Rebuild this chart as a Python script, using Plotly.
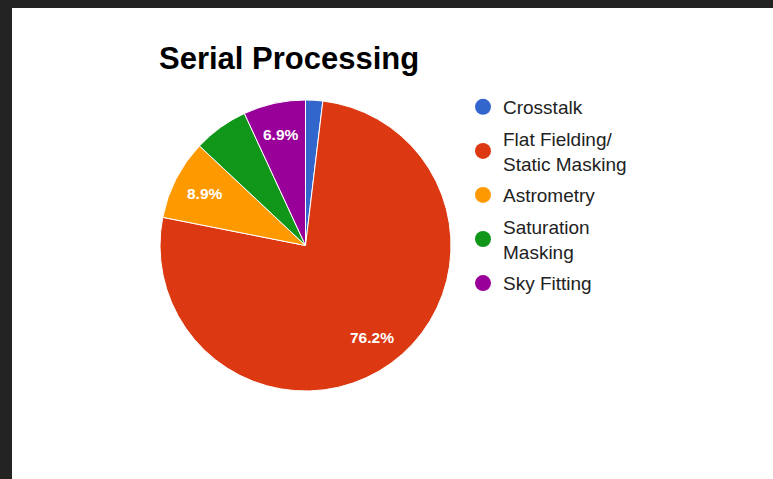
import math
import plotly.graph_objects as go

# Data
categories = ["Crosstalk", "Flat Fielding/<br>Static Masking", "Astrometry",
              "Saturation<br>Masking", "Sky Fitting"]
values = [1.9, 76.2, 8.9, 6.1, 6.9]
colors = ["#3366cc", "#dc3912", "#ff9900", "#109618", "#990099"]
show_label = [False, True, True, False, True]
title_text = "Serial Processing"

W, H = 773, 479
FONT = "Liberation Sans, Arial, sans-serif"

# pie geometry (pixels)
PIE_L, PIE_R, PIE_T, PIE_B = 160, 451, 100, 391
cx_px = (PIE_L + PIE_R) / 2
cy_px = (PIE_T + PIE_B) / 2
rad_px = min(PIE_R - PIE_L, PIE_B - PIE_T) / 2
LABEL_FRAC = 0.78

fig = go.Figure()

fig.add_trace(go.Pie(
    labels=categories,
    values=values,
    sort=False,
    direction="clockwise",
    rotation=0,
    marker=dict(colors=colors, line=dict(color="white", width=1)),
    textinfo="none",
    showlegend=False,
    hoverinfo="label+percent",
    domain=dict(x=[PIE_L / W, PIE_R / W], y=[1 - PIE_B / H, 1 - PIE_T / H]),
))

# slice percentage labels, placed Google-Charts style along each slice bisector
total = sum(values)
annotations = []
cum = 0.0
for v, s in zip(values, show_label):
    mid = (cum + v / 2) / total * 2 * math.pi
    cum += v
    if not s:
        continue
    px = cx_px + LABEL_FRAC * rad_px * math.sin(mid)
    py = cy_px - LABEL_FRAC * rad_px * math.cos(mid)
    annotations.append(dict(
        x=px / W, y=1 - py / H, xref="paper", yref="paper",
        text=f"<b>{v / total * 100:.1f}%</b>", showarrow=False,
        font=dict(family=FONT, size=15.5, color="white"),
        xanchor="center", yanchor="middle",
    ))

# legend entries with round markers
for i, (name, c) in enumerate(zip(categories, colors)):
    fig.add_trace(go.Scatter(
        x=[None], y=[None], mode="markers", name=name,
        marker=dict(symbol="circle", size=18, color=c),
        showlegend=True, legendgroup=f"g{i}",
    ))

fig.update_layout(
    width=W, height=H,
    margin=dict(l=0, r=0, t=0, b=0),
    paper_bgcolor="white",
    plot_bgcolor="white",
    xaxis=dict(visible=False, domain=[0.9, 0.91]),
    yaxis=dict(visible=False, domain=[0.0, 0.01]),
    title=dict(text="<b>" + title_text + "</b>", x=159 / W, xanchor="left",
               xref="paper", y=1 - 58 / H, yanchor="middle", yref="paper",
               font=dict(family=FONT, size=31, color="#000000")),
    legend=dict(x=463 / W, xanchor="left", y=1 - 88 / H, yanchor="top",
                font=dict(family=FONT, size=19, color="#222222"),
                bgcolor="rgba(0,0,0,0)", itemclick=False, tracegroupgap=4),
    annotations=annotations,
    shapes=[
        dict(type="rect", xref="paper", yref="paper", x0=0, x1=12 / W, y0=0, y1=1,
             fillcolor="#232323", line=dict(width=0), layer="above"),
        dict(type="rect", xref="paper", yref="paper", x0=0, x1=1, y0=1 - 8 / H, y1=1,
             fillcolor="#232323", line=dict(width=0), layer="above"),
    ],
)

fig.write_html("out.html",
               config={"displayModeBar": False},
               post_script="document.body.style.margin='0';document.body.style.overflow='hidden';")
